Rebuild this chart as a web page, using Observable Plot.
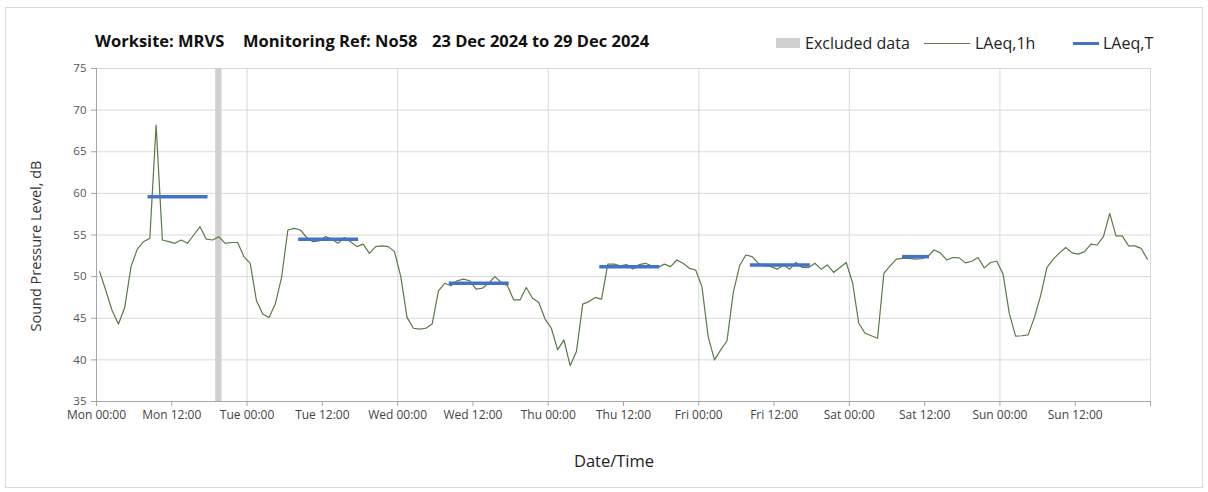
<!DOCTYPE html>
<html>
<head>
<meta charset="utf-8">
<script src="https://cdn.jsdelivr.net/npm/d3@7"></script>
<script src="https://cdn.jsdelivr.net/npm/@observablehq/plot@0.6"></script>
<style>
  body { margin: 0; background: #fff; font-family: "Open Sans", sans-serif; }
  #wrap { position: relative; width: 1208px; height: 492px; overflow: hidden; background: #fff; }
  #frame { position: absolute; left: 5px; top: 7px; width: 1198px; height: 481px; border: 1px solid #d9d9d9; box-sizing: border-box; }
  #head { position: absolute; left: 0; top: 0; width: 1208px; height: 56px; }
  .t { position: absolute; top: 40px; transform: translateY(-50%); font-weight: bold; font-size: 16.5px; color: #111; white-space: nowrap; }
  .lg { position: absolute; top: 43px; transform: translateY(-50%); font-size: 16px; color: #222; white-space: nowrap; }
  .sw { position: absolute; }
  #chart { position: absolute; left: 0; top: 56px; }
  #ylabel { position: absolute; left: 35px; top: 246px; transform: translate(-50%, -50%) rotate(-90deg); font-size: 14.5px; color: #333; white-space: nowrap; }
  #xlabel { position: absolute; left: 614px; top: 460px; transform: translate(-50%, -50%); font-size: 16.5px; color: #222; white-space: nowrap; }
</style>
</head>
<body>
<div id="wrap">
  <div id="frame"></div>
  <div id="head">
    <span class="t" style="left:95px">Worksite: MRVS</span>
    <span class="t" style="left:243px">Monitoring Ref: No58</span>
    <span class="t" style="left:432px">23 Dec 2024 to 29 Dec 2024</span>
    <span class="sw" style="left:776px;top:38px;width:24px;height:10px;background:#d0d0d0"></span>
    <span class="lg" style="left:805px">Excluded data</span>
    <span class="sw" style="left:924px;top:43px;width:46px;height:1px;background:#5b7a45"></span>
    <span class="lg" style="left:975px">LAeq,1h</span>
    <span class="sw" style="left:1073px;top:41.5px;width:26px;height:3px;background:#4472c4"></span>
    <span class="lg" style="left:1103px">LAeq,T</span>
  </div>
  <div id="chart"></div>
  <div id="ylabel">Sound Pressure Level, dB</div>
  <div id="xlabel">Date/Time</div>
</div>
<script>
// Hourly LAeq,1h values (dB), one array per day, hours 00..23
const mon = [50.6, 48.3, 45.9, 44.3, 46.3, 51.2, 53.3, 54.2, 54.6, 68.2, 54.4, 54.2, 54.0, 54.4, 54.0, 55.0, 56.0, 54.5, 54.4, 54.8, 54.0, 54.1, 54.1, 52.4];
const tue = [51.6, 47.1, 45.5, 45.1, 46.7, 49.9, 55.6, 55.8, 55.6, 54.7, 54.2, 54.3, 54.8, 54.5, 54.0, 54.7, 54.2, 53.6, 53.9, 52.8, 53.6, 53.7, 53.6, 53.0];
const wed = [50.0, 45.1, 43.8, 43.7, 43.8, 44.3, 48.3, 49.2, 48.9, 49.5, 49.7, 49.5, 48.5, 48.6, 49.2, 50.0, 49.3, 48.9, 47.2, 47.2, 48.7, 47.4, 46.9, 44.9];
const thu = [43.8, 41.2, 42.4, 39.3, 41.0, 46.7, 47.0, 47.5, 47.3, 51.5, 51.5, 51.3, 51.45, 50.9, 51.45, 51.6, 51.3, 51.1, 51.5, 51.2, 52.0, 51.6, 51.0, 50.8];
const fri = [48.8, 42.8, 40.0, 41.2, 42.3, 48.1, 51.3, 52.6, 52.4, 51.6, 51.3, 51.2, 50.9, 51.4, 50.9, 51.7, 51.1, 51.1, 51.6, 50.9, 51.4, 50.5, 51.1, 51.7];
const sat = [49.3, 44.4, 43.2, 42.9, 42.6, 50.4, 51.3, 52.1, 52.2, 52.2, 52.1, 52.15, 52.4, 53.2, 52.85, 52.0, 52.3, 52.25, 51.65, 51.85, 52.3, 51.05, 51.7, 51.85];
const sun = [50.3, 45.55, 42.85, 42.9, 43.0, 45.1, 47.75, 51.1, 52.1, 52.85, 53.5, 52.85, 52.7, 53.0, 53.9, 53.8, 54.8, 57.6, 54.9, 54.9, 53.7, 53.7, 53.4, 52.1];

// LAeq,T daytime periods
const periodStart = ["2024-12-23T08:30Z", "2024-12-24T08:30Z", "2024-12-25T08:30Z", "2024-12-26T08:30Z", "2024-12-27T08:30Z", "2024-12-28T08:45Z"];
const periodEnd   = ["2024-12-23T17:30Z", "2024-12-24T17:30Z", "2024-12-25T17:30Z", "2024-12-26T17:30Z", "2024-12-27T17:30Z", "2024-12-28T12:30Z"];
const periodLevel = [59.6, 54.5, 49.2, 51.2, 51.4, 52.4];

// Excluded data period
const excludedStart = ["2024-12-23T19:00Z"];
const excludedEnd   = ["2024-12-23T20:00Z"];

// Axes
const weekStart = "2024-12-23T00:00Z";
const weekEnd = "2024-12-30T00:00Z";
const yTicks = [35, 40, 45, 50, 55, 60, 65, 70, 75];

const HOUR = 3600e3;
const t0 = new Date(weekStart).getTime();
const t1 = new Date(weekEnd).getTime();
const series = [];
[mon, tue, wed, thu, fri, sat, sun].forEach((vals, d) =>
  vals.forEach((v, h) => series.push({t: new Date(t0 + (d * 24 + h + 0.5) * HOUR), v})));
const periods = periodLevel.map((lv, i) => ({start: new Date(periodStart[i]), end: new Date(periodEnd[i]), level: lv}));
const excluded = excludedStart.map((s, i) => ({start: new Date(s), end: new Date(excludedEnd[i])}));
const xTicks = d3.utcHour.every(12).range(new Date(t0), new Date(t1 + 1));
const dayTicks = d3.utcDay.range(new Date(t0 + 1), new Date(t1 + 1));
const fmt = d3.utcFormat("%a %H:%M");

const chart = Plot.plot({
  width: 1208,
  height: 380,
  marginLeft: 96,
  marginRight: 58,
  marginTop: 12,
  marginBottom: 35,
  style: {fontFamily: "'Open Sans', sans-serif", background: "transparent"},
  x: {type: "utc", domain: [new Date(t0), new Date(t1)]},
  y: {domain: [35, 75]},
  marks: [
    Plot.gridY(yTicks, {stroke: "#d9d9d9", strokeOpacity: 1}),
    Plot.gridX(dayTicks, {stroke: "#d9d9d9", strokeOpacity: 1}),
    Plot.rect(excluded, {x1: "start", x2: "end", fill: "#d0d0d0"}),
    Plot.ruleY([35], {stroke: "#a6a6a6"}),
    Plot.ruleX([new Date(t0)], {stroke: "#a6a6a6"}),
    Plot.axisY(yTicks, {tickSize: 5, tickPadding: 5, stroke: "#a6a6a6", fill: "#555", fontSize: 11.5, label: null}),
    Plot.axisX(xTicks, {tickSize: 5, tickPadding: 4, stroke: "#a6a6a6", fill: "#444", fontSize: 12, label: null,
      tickFormat: d => (+d === t1 ? "" : fmt(d))}),
    Plot.line(series, {x: "t", y: "v", stroke: "#5b7a45", strokeWidth: 1.2}),
    Plot.ruleY(periods, {y: "level", x1: "start", x2: "end", stroke: "#4472c4", strokeWidth: 3.5, strokeLinecap: "square"})
  ]
});
document.getElementById("chart").appendChild(chart);
</script>
</body>
</html>
